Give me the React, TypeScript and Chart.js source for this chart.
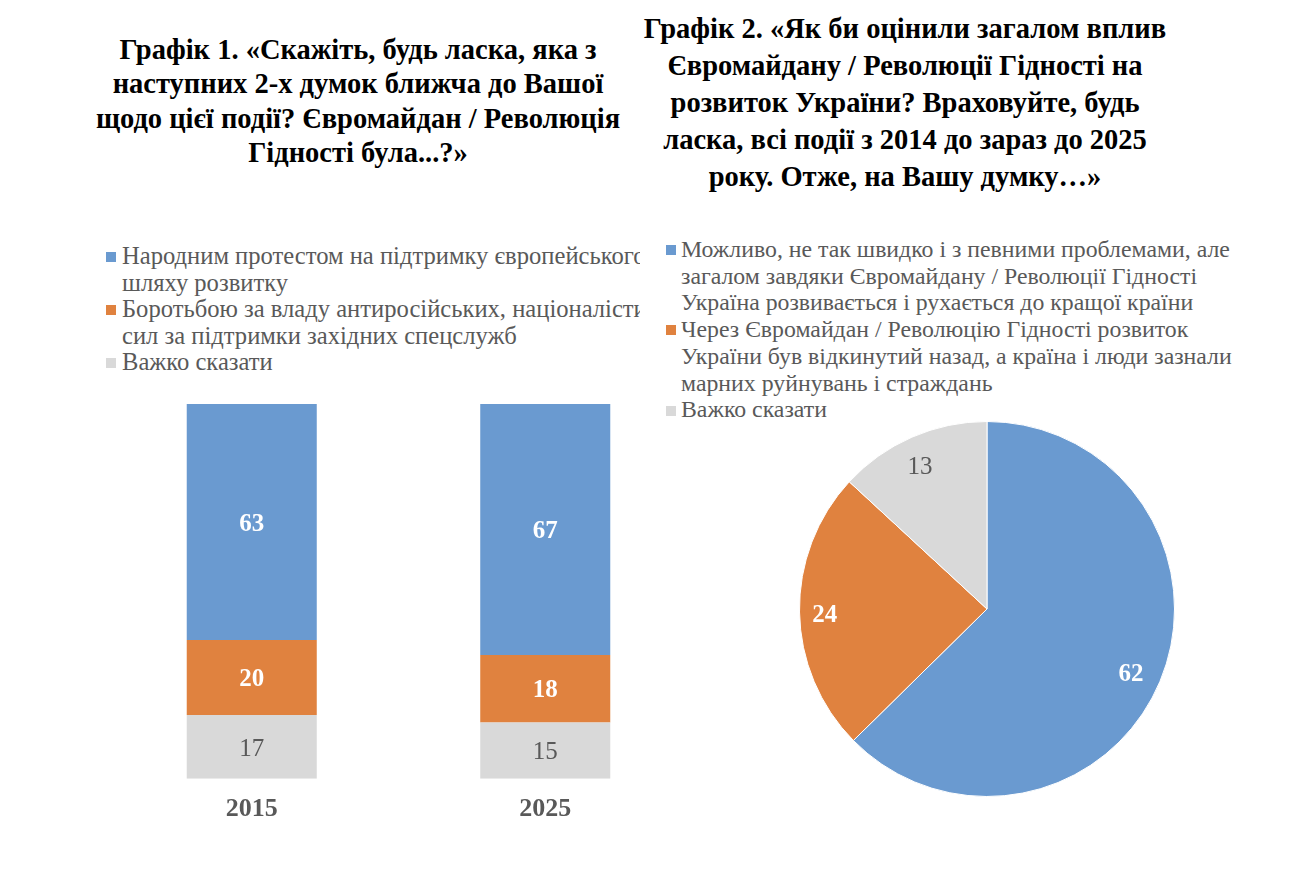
import React, { useEffect, useRef } from "react";
import { Chart, registerables } from "chart.js";

Chart.register(...registerables);

// ---- Data ----
const barCategories = ["2015", "2025"];
const barSeriesNames = [
  "Народним протестом на підтримку європейського шляху розвитку",
  "Боротьбою за владу антиросійських, націоналістичних сил за підтримки західних спецслужб",
  "Важко сказати",
];
const barProtest = [63, 67];
const barStruggle = [20, 18];
const barHard = [17, 15];

const pieLabels = [
  "Можливо, не так швидко і з певними проблемами, але загалом завдяки Євромайдану / Революції Гідності Україна розвивається і рухається до кращої країни",
  "Через Євромайдан / Революцію Гідності розвиток України був відкинутий назад, а країна і люди зазнали марних руйнувань і страждань",
  "Важко сказати",
];
const pieValues = [62, 24, 13];

const title1Lines = [
  "Графік 1. «Скажіть, будь ласка, яка з",
  "наступних 2-х думок ближча до Вашої",
  "щодо цієї події? Євромайдан / Революція",
  "Гідності була...?»",
];
const title2Lines = [
  "Графік 2. «Як би оцінили загалом вплив",
  "Євромайдану / Революції Гідності на",
  "розвиток України? Враховуйте, будь",
  "ласка, всі події з 2014 до зараз до 2025",
  "року. Отже, на Вашу думку…»",
];
const legend1Lines = [
  ["Народним протестом на підтримку європейського", "шляху розвитку"],
  ["Боротьбою за владу антиросійських, націоналістичних", "сил за підтримки західних спецслужб"],
  ["Важко сказати"],
];
const legend2Lines = [
  [
    "Можливо, не так швидко і з певними проблемами, але",
    "загалом завдяки Євромайдану / Революції Гідності",
    "Україна розвивається і рухається до кращої країни",
  ],
  [
    "Через Євромайдан / Революцію Гідності розвиток",
    "України був відкинутий назад, а країна і люди зазнали",
    "марних руйнувань і страждань",
  ],
  ["Важко сказати"],
];

const COLORS = ["#6A9AD0", "#E0823F", "#D9D9D9"];
const LABEL_COLORS = ["#FFFFFF", "#FFFFFF", "#595959"];
const LABEL_BOLD = [true, true, false];
const SERIF = "'Liberation Serif', 'Times New Roman', serif";

const barLabelPlugin = {
  id: "barLabels",
  afterDatasetsDraw(chart: any) {
    const ctx = chart.ctx;
    chart.data.datasets.forEach((ds: any, di: number) => {
      const meta = chart.getDatasetMeta(di);
      const ci = ds.colorIdx;
      meta.data.forEach((el: any, i: number) => {
        const { x, y, base } = el.getProps(["x", "y", "base"], true);
        ctx.save();
        ctx.font = `${LABEL_BOLD[ci] ? "bold " : ""}25px ${SERIF}`;
        ctx.fillStyle = LABEL_COLORS[ci];
        ctx.textAlign = "center";
        ctx.textBaseline = "middle";
        ctx.fillText(String(ds.data[i]), x, (y + base) / 2 + 2);
        ctx.restore();
      });
    });
  },
};

const pieLabelPlugin = {
  id: "pieLabels",
  afterDatasetsDraw(chart: any) {
    const ctx = chart.ctx;
    const meta = chart.getDatasetMeta(0);
    meta.data.forEach((el: any, i: number) => {
      const { x, y, startAngle, endAngle, outerRadius } = el.getProps(
        ["x", "y", "startAngle", "endAngle", "outerRadius"],
        true
      );
      const mid = (startAngle + endAngle) / 2;
      const r = outerRadius * 0.85;
      ctx.save();
      ctx.font = `${LABEL_BOLD[i] ? "bold " : ""}25px ${SERIF}`;
      ctx.fillStyle = LABEL_COLORS[i];
      ctx.textAlign = "center";
      ctx.textBaseline = "middle";
      ctx.fillText(String(pieValues[i]), x + Math.cos(mid) * r - 3, y + Math.sin(mid) * r + 4);
      ctx.restore();
    });
  },
};

function BarChart() {
  const ref = useRef<HTMLCanvasElement>(null);
  useEffect(() => {
    const chart = new Chart(ref.current as HTMLCanvasElement, {
      type: "bar",
      data: {
        labels: barCategories,
        datasets: [
          { label: barSeriesNames[2], data: barHard, backgroundColor: COLORS[2], colorIdx: 2 },
          { label: barSeriesNames[1], data: barStruggle, backgroundColor: COLORS[1], colorIdx: 1 },
          { label: barSeriesNames[0], data: barProtest, backgroundColor: COLORS[0], colorIdx: 0 },
        ] as any,
      },
      options: {
        animation: false,
        responsive: false,
        devicePixelRatio: 1,
        layout: { padding: { top: 10, left: 0, right: 0, bottom: 0 } },
        datasets: { bar: { barPercentage: 0.443, categoryPercentage: 1 } } as any,
        plugins: { legend: { display: false }, tooltip: { enabled: false } },
        scales: {
          x: {
            stacked: true,
            grid: { display: false, drawTicks: false },
            border: { display: false },
            ticks: {
              padding: 15,
              color: "#595959",
              font: { family: SERIF, size: 26, weight: "bold" },
            },
          },
          y: { stacked: true, display: false, min: 0, max: 100 },
        },
      },
      plugins: [barLabelPlugin],
    });
    return () => chart.destroy();
  }, []);
  return (
    <canvas
      ref={ref}
      width={587}
      height={446}
      style={{ position: "absolute", left: 105, top: 394, width: 587, height: 446 }}
    />
  );
}

function PieChart() {
  const ref = useRef<HTMLCanvasElement>(null);
  useEffect(() => {
    const chart = new Chart(ref.current as HTMLCanvasElement, {
      type: "pie",
      data: {
        labels: pieLabels,
        datasets: [
          {
            data: pieValues,
            backgroundColor: COLORS,
            borderColor: "#FFFFFF",
            borderWidth: 1,
          },
        ],
      },
      options: {
        animation: false,
        responsive: false,
        devicePixelRatio: 1,
        layout: { padding: 12 },
        plugins: { legend: { display: false }, tooltip: { enabled: false } },
      },
      plugins: [pieLabelPlugin],
    });
    return () => chart.destroy();
  }, []);
  return (
    <canvas
      ref={ref}
      width={400}
      height={400}
      style={{ position: "absolute", left: 787, top: 409, width: 400, height: 400 }}
    />
  );
}

function Title({ lines, cx, top, lh, size }: any) {
  return (
    <div
      style={{
        position: "absolute",
        left: cx - 340,
        width: 680,
        top,
        textAlign: "center",
        fontFamily: SERIF,
        fontWeight: "bold",
        fontSize: size,
        lineHeight: `${lh}px`,
        color: "#000",
      }}
    >
      {lines.map((l: string, i: number) => (
        <div key={i} style={{ whiteSpace: "nowrap" }}>
          {l}
        </div>
      ))}
    </div>
  );
}

function Legend({ items, left, top, lh, size, width, pad }: any) {
  return (
    <div
      style={{
        position: "absolute",
        left,
        top,
        width,
        overflow: "hidden",
        fontFamily: SERIF,
        fontSize: size,
        lineHeight: `${lh}px`,
        color: "#595959",
      }}
    >
      {items.map((lines: string[], i: number) => (
        <div key={i} style={{ position: "relative", paddingLeft: pad }}>
          <span
            style={{
              position: "absolute",
              left: 0,
              top: (lh - 10) / 2 + 1,
              width: 10,
              height: 10,
              background: COLORS[i],
            }}
          />
          {lines.map((l, j) => (
            <div key={j} style={{ whiteSpace: "nowrap" }}>
              {l}
            </div>
          ))}
        </div>
      ))}
    </div>
  );
}

export default function App() {
  return (
    <div
      style={{
        position: "absolute",
        left: 0,
        top: 0,
        width: 1306,
        height: 878,
        overflow: "hidden",
        background: "#fff",
      }}
    >
      <Title lines={title1Lines} cx={358} top={33} lh={34.3} size={28.5} />
      <Title lines={title2Lines} cx={905} top={11} lh={36.9} size={28.5} />
      <Legend items={legend1Lines} left={106} top={243} lh={26.5} size={24.6} width={534} pad={16} />
      <Legend items={legend2Lines} left={666} top={236} lh={26.7} size={23.8} width={630} pad={15} />
      <BarChart />
      <PieChart />
    </div>
  );
}
